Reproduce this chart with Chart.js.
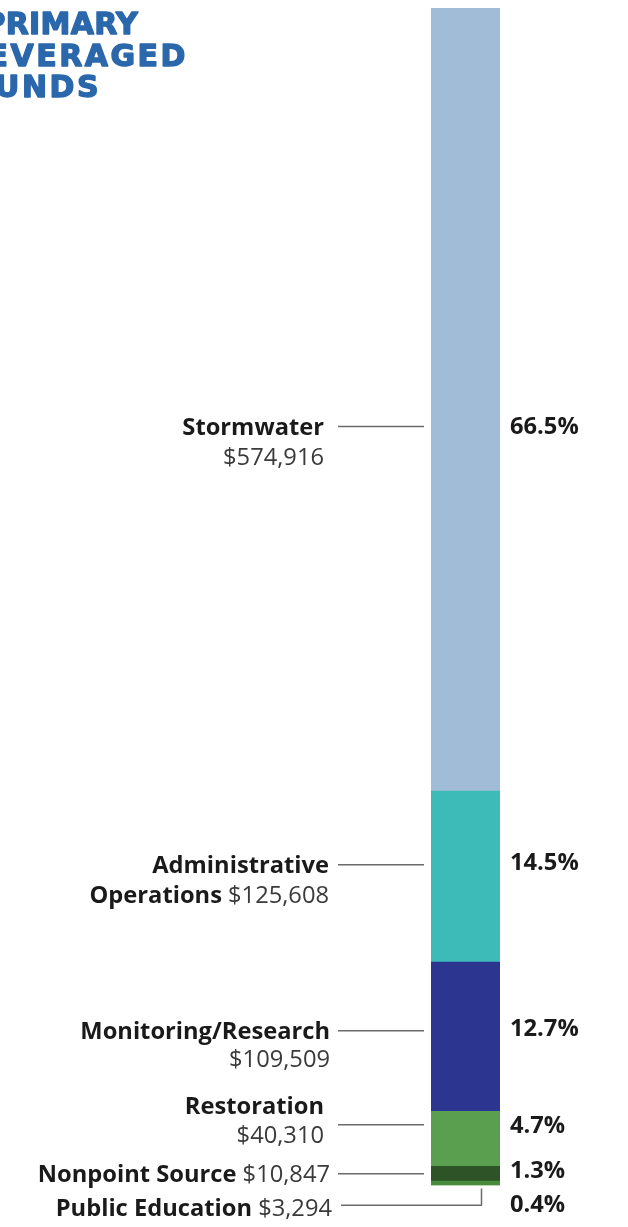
<!DOCTYPE html>
<html>
<head>
<meta charset="utf-8">
<script src="https://cdn.jsdelivr.net/npm/chart.js@4/dist/chart.umd.min.js"></script>
<style>
  html, body { margin: 0; padding: 0; background: #ffffff; }
  #wrap { position: relative; width: 628px; height: 1227px; }
</style>
</head>
<body>
<div id="wrap"><canvas id="c" width="628" height="1227"></canvas></div>
<script>
// ---- data (top of bar to bottom) ----
const categories = ['Stormwater', 'Administrative Operations', 'Monitoring/Research', 'Restoration', 'Nonpoint Source', 'Public Education'];
const amounts = [574916, 125608, 109509, 40310, 10847, 3294];
const amountLabels = ['$574,916', '$125,608', '$109,509', '$40,310', '$10,847', '$3,294'];
const percentLabels = ['66.5%', '14.5%', '12.7%', '4.7%', '1.3%', '0.4%'];
const titleLines = ['PRIMARY', 'LEVERAGED', 'FUNDS'];

// ---- styles ----
const colors = ['#a1bcd6', '#3dbbb8', '#2c358f', '#5a9f4f', '#2d5326', '#4a8c3e'];
// text lines for each label: arrays of runs [text, bold]
const labelLines = [
  [[['Stormwater', true]], [['$574,916', false]]],
  [[['Administrative', true]], [['Operations ', true], ['$125,608', false]]],
  [[['Monitoring/Research', true]], [['$109,509', false]]],
  [[['Restoration', true]], [['$40,310', false]]],
  [[['Nonpoint Source ', true], ['$10,847', false]]],
  [[['Public Education ', true], ['$3,294', false]]]
];
const leaderOffset = [27, -12, -6, -14, 0, 22];        // leader y relative to segment middle
const lineOffsets = [[2, 32], [2, 32], [2, 30], [-18, 11], [2], [4]];
const textRights = [324, 329, 330, 324, 330, 332];
const pctOffset = [1, -1, -1, 1, -2, 0];
const total = amounts.reduce((a, b) => a + b, 0);

const FONT = '"Open Sans", "Liberation Sans", sans-serif';
const FS = 23.7;
const labelPlugin = {
  id: 'labels',
  afterDatasetsDraw(chart) {
    const ctx = chart.ctx;
    const n = categories.length;
    ctx.save();
    // title
    ctx.fillStyle = '#2b67ab';
    ctx.strokeStyle = '#2b67ab';
    ctx.lineWidth = 1.4;
    ctx.lineJoin = 'round';
    ctx.font = 'bold 30px "DejaVu Sans", sans-serif';
    ctx.textAlign = 'right';
    ctx.textBaseline = 'alphabetic';
    const titleRight = [138, 188, 101];
    const titleSpacing = ['0.3px', '2.5px', '2.5px'];
    titleLines.forEach((t, i) => {
      ctx.letterSpacing = titleSpacing[i];
      ctx.fillText(t, titleRight[i], 34 + i * 31.5);
      ctx.strokeText(t, titleRight[i], 34 + i * 31.5);
    });
    ctx.letterSpacing = '0px';

    const leadX0 = 338, leadX1 = 424;
    for (let i = 0; i < n; i++) {
      const dsIndex = n - 1 - i;
      const el = chart.getDatasetMeta(dsIndex).data[0];
      const top = Math.min(el.y, el.base), bot = Math.max(el.y, el.base);
      const mid = (top + bot) / 2;
      const ly = mid + leaderOffset[i];
      // leader
      ctx.strokeStyle = '#6b6b6b';
      ctx.lineWidth = 1.5;
      ctx.beginPath();
      if (i === n - 1) {
        ctx.moveTo(leadX0 + 3, ly);
        ctx.lineTo(el.x + 16, ly);
        ctx.lineTo(el.x + 16, bot + 3);
      } else {
        ctx.moveTo(leadX0, ly);
        ctx.lineTo(leadX1, ly);
      }
      ctx.stroke();
      // label text
      ctx.textBaseline = 'middle';
      ctx.textAlign = 'left';
      labelLines[i].forEach((runs, li) => {
        const y = ly + lineOffsets[i][li];
        let w = 0;
        runs.forEach(([t, b]) => { ctx.font = (b ? 'bold ' : '') + FS + 'px ' + FONT; w += ctx.measureText(t).width; });
        let x = textRights[i] - w;
        runs.forEach(([t, b]) => {
          ctx.font = (b ? 'bold ' : '') + FS + 'px ' + FONT;
          ctx.fillStyle = b ? '#1a1a1a' : '#3a3a3a';
          ctx.fillText(t, x, y);
          x += ctx.measureText(t).width;
        });
      });
      // percentage
      ctx.font = 'bold ' + FS + 'px ' + FONT;
      ctx.fillStyle = '#1a1a1a';
      ctx.fillText(percentLabels[i], 510, ly + pctOffset[i]);
    }
    ctx.restore();
  }
};

const datasets = categories.map((c, i) => ({
  label: c,
  data: [amounts[i]],
  backgroundColor: colors[i],
  borderWidth: 0,
  barPercentage: 1,
  categoryPercentage: 1
})).reverse();

new Chart(document.getElementById('c'), {
  type: 'bar',
  data: { labels: ['Funds'], datasets },
  options: {
    responsive: false,
    animation: false,
    layout: { padding: { top: 8, bottom: 41.5, left: 431, right: 128 } },
    plugins: { legend: { display: false }, tooltip: { enabled: false } },
    scales: {
      x: { stacked: true, display: false },
      y: { stacked: true, display: false, min: 0, max: total }
    }
  },
  plugins: [labelPlugin]
});
</script>
</body>
</html>
